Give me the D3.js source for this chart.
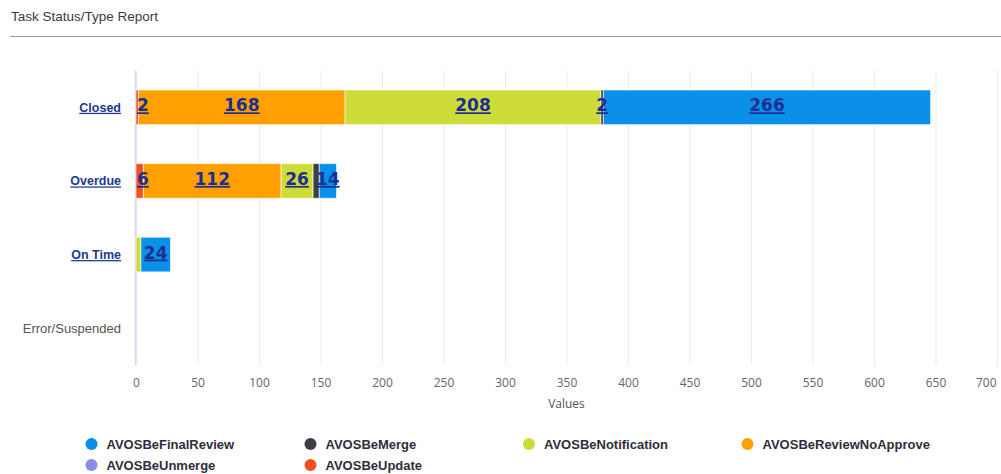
<!DOCTYPE html>
<html>
<head>
<meta charset="utf-8">
<script src="https://cdn.jsdelivr.net/npm/d3@7"></script>
<style>
  html, body { margin: 0; padding: 0; background: #fff; }
  svg { display: block; }
</style>
</head>
<body>
<svg id="chart" width="1001" height="474"></svg>
<script>
// Task counts per status, one array per task type
const categories = ["Closed", "Overdue", "On Time", "Error/Suspended"];
const finalReview     = [266, 14, 24, 0];
const merge           = [2, 5, 0, 0];
const notification    = [208, 26, 4, 0];
const reviewNoApprove = [168, 112, 0, 0];
const unmerge         = [0, 0, 0, 0];
const update          = [2, 6, 0, 0];
const xTicks = [0, 50, 100, 150, 200, 250, 300, 350, 400, 450, 500, 550, 600, 650, 700];

const series = [
  { key: "AVOSBeFinalReview",     values: finalReview,     color: "#0a90e9" },
  { key: "AVOSBeMerge",           values: merge,           color: "#3d3d45" },
  { key: "AVOSBeNotification",    values: notification,    color: "#cddc39" },
  { key: "AVOSBeReviewNoApprove", values: reviewNoApprove, color: "#ffa000" },
  { key: "AVOSBeUnmerge",         values: unmerge,         color: "#8c8ce8" },
  { key: "AVOSBeUpdate",          values: update,          color: "#f4511e" }
];
// bars stack from the last legend entry to the first
const stackKeys = series.map(s => s.key).slice().reverse();
const colorOf = Object.fromEntries(series.map(s => [s.key, s.color]));

const rows = categories.map((c, i) => {
  const r = { category: c };
  series.forEach(s => { r[s.key] = s.values[i]; });
  return r;
});

const svg = d3.select("#chart");
const plotLeft = 136, plotRight = 997, plotTop = 70.5, plotBottom = 365;

// header
svg.append("text")
  .attr("x", 11).attr("y", 21)
  .attr("font-family", "Liberation Sans, Arial, sans-serif")
  .attr("font-size", 13.5)
  .attr("fill", "#3a3a4a")
  .text("Task Status/Type Report");
svg.append("line")
  .attr("x1", 10).attr("x2", 1001).attr("y1", 36.5).attr("y2", 36.5)
  .attr("stroke", "#9a9a9a").attr("stroke-width", 1);

const x = d3.scaleLinear().domain([0, 700]).range([plotLeft, plotRight]);
const p = 0.53;
const y = d3.scaleBand().domain(categories).range([plotTop, plotBottom])
  .paddingInner(p).paddingOuter(p / 2);

// x axis with full-height grid lines
const xAxis = svg.append("g")
  .attr("transform", `translate(0,${plotBottom})`)
  .call(d3.axisBottom(x).tickValues(xTicks).tickSizeInner(-(plotBottom - plotTop)).tickSizeOuter(0).tickPadding(13));
xAxis.select(".domain").remove();
xAxis.selectAll(".tick line").attr("stroke", "#ebebeb").attr("stroke-width", 1);
xAxis.selectAll(".tick text")
  .attr("font-family", "Open Sans, sans-serif")
  .attr("font-size", 12)
  .attr("fill", "#666");
// keep the last tick label inside the plot edge
xAxis.selectAll(".tick text").each(function (d) {
  const w = this.getComputedTextLength();
  const cx = x(d);
  if (cx + w / 2 > plotRight - 1) {
    d3.select(this).attr("text-anchor", "end").attr("x", plotRight - 1 - cx);
  }
});

svg.append("text")
  .attr("x", (plotLeft + plotRight) / 2).attr("y", 408)
  .attr("text-anchor", "middle")
  .attr("font-family", "Open Sans, sans-serif")
  .attr("font-size", 12)
  .attr("fill", "#555")
  .text("Values");

// category axis line
svg.append("line")
  .attr("x1", plotLeft - 0.5).attr("x2", plotLeft - 0.5).attr("y1", plotTop).attr("y2", plotBottom)
  .attr("stroke", "#d3d6f0").attr("stroke-width", 1.5);

// category labels: statuses with tasks are drawn as links
svg.append("g").selectAll("text")
  .data(rows)
  .join("text")
  .attr("x", plotLeft - 15)
  .attr("y", d => y(d.category) + y.bandwidth() / 2 + 4.5)
  .attr("text-anchor", "end")
  .attr("font-family", "Liberation Sans, Arial, sans-serif")
  .each(function (d) {
    const total = d3.sum(stackKeys, k => d[k]);
    const t = d3.select(this);
    if (total > 0) {
      t.attr("font-size", 12.5).attr("font-weight", "bold").attr("fill", "#1d3a8f")
       .attr("text-decoration", "underline");
    } else {
      t.attr("font-size", 13).attr("fill", "#555");
    }
  })
  .text(d => d.category);

// stacked bars
const stacked = d3.stack().keys(stackKeys)(rows);
const layers = svg.append("g").selectAll("g")
  .data(stacked)
  .join("g")
  .attr("fill", d => colorOf[d.key]);
layers.selectAll("rect")
  .data(d => d.map(v => ({ key: d.key, v0: v[0], v1: v[1], category: v.data.category })).filter(d => d.v1 > d.v0))
  .join("rect")
  .attr("x", d => x(d.v0))
  .attr("y", d => y(d.category))
  .attr("width", d => x(d.v1) - x(d.v0))
  .attr("height", y.bandwidth())
  .attr("stroke", "rgba(255,255,255,0.6)")
  .attr("stroke-width", 1);

// value labels, centered on each segment and kept inside the plot
const segs = [];
stacked.forEach(layer => layer.forEach(v => {
  const val = v[1] - v[0];
  if (val > 0) segs.push({ key: layer.key, v0: v[0], v1: v[1], value: val, category: v.data.category });
}));
const labelG = svg.append("g");
const labels = labelG.selectAll("text")
  .data(segs)
  .join("text")
  .attr("y", d => y(d.category) + y.bandwidth() / 2 + 4)
  .attr("font-family", "DejaVu Sans, sans-serif")
  .attr("font-size", 17)
  .attr("font-weight", "bold")
  .attr("fill", "#1c2f8e")
  .attr("text-decoration", "underline")
  .attr("text-anchor", "start")
  .text(d => d.value);
labels.each(function (d) {
  const w = this.getComputedTextLength();
  let x0 = (x(d.v0) + x(d.v1)) / 2 - w / 2;
  x0 = Math.max(x0, plotLeft + 1);
  d.lx0 = x0; d.lx1 = x0 + w;
  d3.select(this).attr("x", x0);
});
// hide labels that would collide, larger values win
const placed = [];
segs.slice().sort((a, b) => b.value - a.value).forEach(d => {
  const clash = placed.some(o => o.category === d.category && d.lx0 < o.lx1 && d.lx1 > o.lx0);
  if (clash) d.hidden = true; else placed.push(d);
});
labels.attr("display", d => d.hidden ? "none" : null);

// legend
const legend = svg.append("g");
const colX = [91.5, 310.5, 529, 747.5];
const rowY = [444, 465];
series.forEach((s, i) => {
  const cx = colX[i % 4], cy = rowY[Math.floor(i / 4)];
  legend.append("circle").attr("cx", cx).attr("cy", cy).attr("r", 6).attr("fill", s.color);
  legend.append("text")
    .attr("x", cx + 15).attr("y", cy + 4.5)
    .attr("font-family", "Liberation Sans, Arial, sans-serif")
    .attr("font-size", 13)
    .attr("font-weight", "bold")
    .attr("fill", "#2e2e3a")
    .text(s.key);
});
</script>
</body>
</html>
